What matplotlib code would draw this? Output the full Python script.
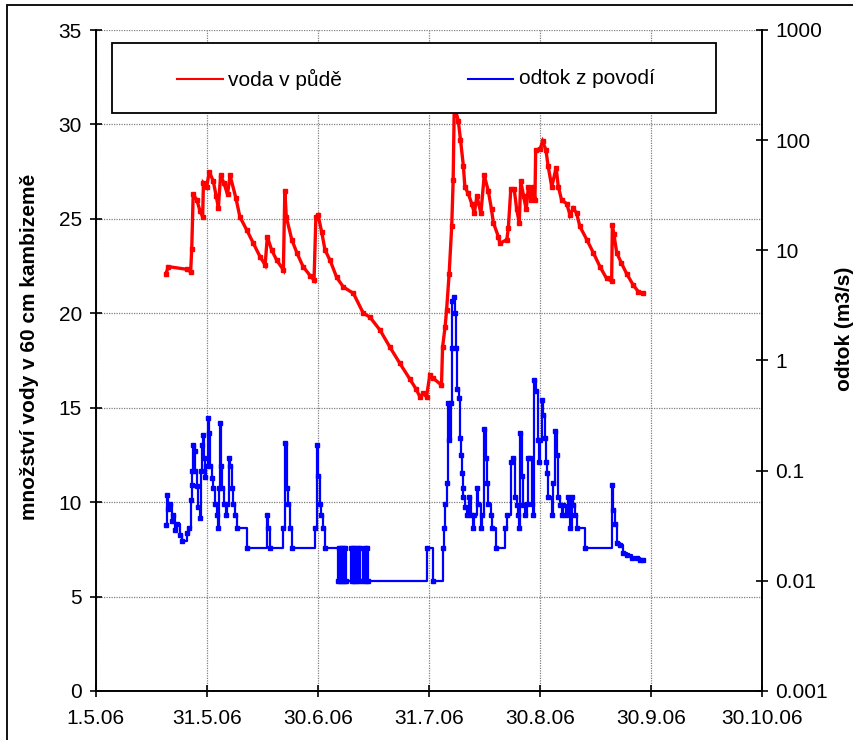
import numpy as np
import matplotlib
matplotlib.use("Agg")
import matplotlib.pyplot as plt
from matplotlib.patches import Rectangle
from matplotlib.lines import Line2D
from matplotlib.ticker import FixedLocator, NullLocator

plt.rcParams["font.family"] = ["Liberation Sans", "DejaVu Sans"]
plt.rcParams["font.size"] = 15

# days counted from 1.5.2006
date_labels = ["1.5.06", "31.5.06", "30.6.06", "31.7.06", "30.8.06", "30.9.06", "30.10.06"]
date_step = 30.4

# soil water in 60 cm of cambisol
red_day = [19.25, 19.9, 24.9, 26.0, 26.3, 26.7, 27.7, 28.6, 29.3, 29.5, 30.4, 31.1,
           32.2, 33.0, 33.6, 34.2, 35.1, 36.1, 36.8, 38.4, 39.5, 41.4, 43.2, 45.0,
           46.4, 47.0, 48.2, 49.6, 51.4, 51.8, 52.2, 53.7, 55.1, 56.8, 58.7, 59.8,
           60.3, 60.9, 61.9, 62.8, 64.2, 66.0, 67.8, 70.6, 73.3, 75.1, 77.9, 80.6,
           83.3, 86.1, 87.7, 88.8, 89.7, 90.6, 91.5, 92.5, 94.7, 95.0, 95.7, 96.1,
           96.8, 97.5, 97.9, 98.2, 99.3, 99.9, 100.7, 101.1, 102.0, 103.0, 103.7, 104.4,
           105.5, 106.4, 107.5, 108.4, 108.9, 110.3, 110.7, 112.6, 113.0, 113.7, 114.6, 115.3,
           116.0, 116.4, 117.2, 117.9, 118.5, 119.2, 119.8, 120.3, 120.5, 121.7, 122.4, 123.3,
           123.9, 124.9, 126.1, 126.7, 127.6, 129.0, 129.9, 130.8, 131.7, 132.6, 134.5, 136.3,
           138.1, 139.9, 141.3, 141.5, 141.9, 142.7, 144.0, 145.4, 147.2, 148.6, 149.9]
red_val = [22.1, 22.47, 22.33, 22.2, 23.4, 26.3, 26.0, 25.4, 25.1, 26.9, 26.7, 27.5,
           27.0, 26.2, 25.6, 27.3, 26.9, 26.3, 27.3, 26.1, 25.1, 24.4, 23.7, 23.0,
           22.56, 24.05, 23.35, 22.8, 22.3, 26.5, 25.1, 23.9, 23.2, 22.47, 22.0, 21.76,
           25.1, 25.2, 24.3, 23.35, 22.8, 21.9, 21.4, 21.05, 20.0, 19.8, 19.1, 18.2,
           17.35, 16.5, 16.0, 15.58, 15.76, 15.58, 16.73, 16.55, 16.2, 18.2, 19.3, 20.17,
           22.1, 24.6, 27.05, 31.0, 30.2, 29.2, 27.8, 26.7, 26.35, 25.8, 25.3, 26.2,
           25.3, 27.3, 26.5, 25.5, 24.8, 24.05, 23.7, 23.9, 24.5, 26.6, 26.6, 25.5,
           24.8, 27.0, 26.2, 25.5, 26.7, 26.0, 26.7, 26.0, 28.65, 28.7, 29.1, 28.65,
           27.8, 26.7, 27.7, 26.7, 26.0, 25.8, 25.2, 25.55, 25.3, 24.6, 23.9, 23.2,
           22.47, 21.85, 21.7, 24.7, 24.2, 23.2, 22.65, 22.1, 21.5, 21.15, 21.05]

# catchment runoff, m3/s
blue_day = [19.25, 19.6, 19.9, 20.4, 20.8, 21.2, 21.7, 22.3, 23.1, 23.6, 25.1, 25.6,
            26.0, 26.3, 26.5, 26.7, 27.1, 27.3, 27.7, 28.1, 28.6, 28.8, 29.0, 29.5,
            29.7, 29.9, 30.3, 30.8, 31.1, 31.3, 31.8, 32.2, 32.7, 33.1, 33.6, 33.9,
            34.0, 34.3, 34.7, 35.1, 35.7, 36.0, 36.5, 36.9, 37.3, 37.7, 38.2, 38.8,
            41.4, 47.0, 47.3, 47.7, 51.3, 51.8, 52.3, 52.7, 53.2, 53.7, 60.1, 60.5,
            60.9, 61.3, 61.7, 62.3, 62.8,
            66.4, 66.7, 66.9, 67.2, 67.4, 67.7, 67.9, 68.2, 68.5, 69.8, 70.1, 70.4,
            70.7, 71.0, 71.3, 71.9, 72.1, 72.4, 73.1, 73.8, 74.0, 74.3, 74.7,
            90.8, 92.3, 95.0, 95.5, 95.8, 96.1, 96.5, 96.8, 97.2, 97.5, 97.7, 98.0,
            98.4, 98.7, 99.0, 99.4, 99.8, 100.1, 100.3, 100.5, 100.7, 101.2, 101.6, 102.3,
            102.8, 103.3, 103.6, 104.4, 104.7, 105.4, 105.8, 106.4, 106.8, 107.1, 107.5, 108.2,
            108.5, 109.6, 112.1, 112.6, 113.8, 114.3, 114.8, 115.3, 115.6, 115.9, 116.2, 116.7,
            117.1, 117.6, 118.1, 118.5, 119.0, 119.4, 119.8, 120.1, 120.6, 121.0, 121.3, 121.7,
            122.2, 122.6, 123.1, 123.3, 123.7, 124.0, 124.9, 125.3, 125.8, 126.3, 126.7, 127.2,
            127.6, 128.1, 128.8, 129.4, 129.9, 130.4, 130.8, 131.3, 131.7, 134.0, 141.5, 141.8,
            142.2, 142.7, 143.6, 144.5, 145.4, 146.8, 148.2, 149.1, 150.0]
blue_val = [0.032, 0.06, 0.045, 0.05, 0.035, 0.04, 0.029, 0.033, 0.026, 0.023, 0.027, 0.03,
            0.054, 0.074, 0.1, 0.17, 0.15, 0.1, 0.072, 0.047, 0.037, 0.1, 0.17, 0.21,
            0.13, 0.088, 0.11, 0.30, 0.22, 0.11, 0.086, 0.069, 0.05, 0.04, 0.03, 0.07,
            0.27, 0.11, 0.07, 0.05, 0.04, 0.05, 0.13, 0.11, 0.07, 0.05, 0.04, 0.03,
            0.02, 0.04, 0.03, 0.02, 0.03, 0.18, 0.07, 0.05, 0.03, 0.02, 0.03, 0.17,
            0.09, 0.05, 0.04, 0.03, 0.02,
            0.01, 0.02, 0.01, 0.02, 0.01, 0.02, 0.01, 0.02, 0.01, 0.02, 0.01, 0.02,
            0.01, 0.02, 0.01, 0.02, 0.01, 0.02, 0.01, 0.02, 0.01, 0.02, 0.01,
            0.02, 0.01, 0.02, 0.03, 0.05, 0.077, 0.41, 0.19, 0.41, 1.3, 3.5, 3.8,
            2.7, 1.3, 0.55, 0.46, 0.2, 0.14, 0.095, 0.07, 0.058, 0.047, 0.04, 0.058,
            0.04, 0.03, 0.04, 0.069, 0.05, 0.03, 0.04, 0.24, 0.13, 0.077, 0.05, 0.04,
            0.03, 0.02, 0.03, 0.04, 0.12, 0.13, 0.058, 0.049, 0.04, 0.03, 0.22, 0.09,
            0.049, 0.04, 0.05, 0.13, 0.13, 0.05, 0.04, 0.67, 0.53, 0.19, 0.12, 0.19,
            0.44, 0.32, 0.2, 0.12, 0.095, 0.058, 0.04, 0.077, 0.23, 0.14, 0.058, 0.049,
            0.04, 0.049, 0.04, 0.058, 0.03, 0.058, 0.049, 0.04, 0.03, 0.02, 0.074, 0.044,
            0.033, 0.022, 0.021, 0.018, 0.017, 0.016, 0.016, 0.0155, 0.0155]

left_ticks = [0, 5, 10, 15, 20, 25, 30, 35]
right_ticks = [0.001, 0.01, 0.1, 1, 10, 100, 1000]
right_labels = ["0.001", "0.01", "0.1", "1", "10", "100", "1000"]

W, H = 854, 740
fig = plt.figure(figsize=(W / 100, H / 100), dpi=100)
ax = fig.add_axes([95.7 / W, 1 - 691 / H, (761.7 - 95.7) / W, 661 / H])
ax2 = ax.twinx()

ax.plot(red_day, red_val, color="#ff0000", lw=2.4, marker="s", ms=3.2,
        mec="#ff0000", solid_joinstyle="miter", zorder=3)
ax2.plot(blue_day, blue_val, color="#0000ff", lw=1.6, drawstyle="steps-post",
         marker="s", ms=2.4, mec="#0000ff", zorder=3)

xticks = [i * date_step for i in range(len(date_labels))]
ax.set_xlim(0, xticks[-1])
ax.set_xticks(xticks)
ax.set_xticklabels(date_labels)
ax.set_ylim(0, 35)
ax.set_yticks(left_ticks)

ax2.set_yscale("log")
ax2.set_ylim(0.001, 1000)
ax2.yaxis.set_major_locator(FixedLocator(right_ticks))
ax2.yaxis.set_minor_locator(NullLocator())
ax2.set_yticklabels(right_labels)

grid_kw = dict(color="#808080", linestyle=(0, (1, 1)), linewidth=0.9)
ax.grid(True, **grid_kw)
ax.set_axisbelow(True)

for a in (ax, ax2):
    a.spines["top"].set_visible(False)
    for s in ("left", "right", "bottom"):
        a.spines[s].set_linewidth(1.2)
ax.tick_params(axis="both", direction="inout", length=8, width=1.2)
ax.tick_params(axis="y", pad=6)
ax.tick_params(axis="x", pad=9)
ax2.tick_params(axis="y", direction="inout", length=8, width=1.2, pad=6)

fig.text(30 / W, 1 - 347 / H, "množství vody v 60 cm kambizemě", rotation=90,
         ha="center", va="center", fontweight="bold")
fig.text(845 / W, 1 - 329 / H, "odtok (m3/s)", rotation=90,
         ha="center", va="center", fontweight="bold")

# legend box over the plot
fig.add_artist(Rectangle((112 / W, 1 - 113 / H), (716 - 112) / W, (113 - 42.5) / H,
                         transform=fig.transFigure, facecolor="white",
                         edgecolor="black", lw=1.3))
ly = 1 - 79 / H
fig.add_artist(Line2D([177 / W, 223 / W], [ly, ly], color="#ff0000", lw=1.5))
fig.text(228 / W, ly, "voda v půdě", va="center", ha="left")
fig.add_artist(Line2D([468 / W, 513 / W], [ly, ly], color="#0000ff", lw=1.5))
fig.text(519 / W, ly, "odtok z povodí", va="center", ha="left")

# chart frame
fig.add_artist(Rectangle((7.5 / W, -0.1), 1.2, 1.1 - 5 / H, transform=fig.transFigure,
                         fill=False, edgecolor="black", lw=1.3))

fig.savefig("out.png", dpi=100)
